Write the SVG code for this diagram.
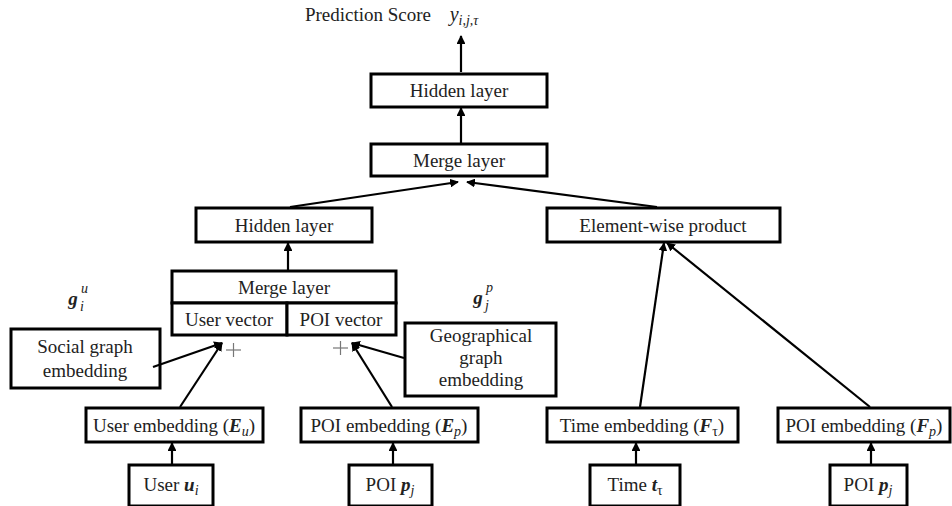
<svg xmlns="http://www.w3.org/2000/svg" width="952" height="506" viewBox="0 0 952 506">
<defs>
<style>
.box{fill:#fff;stroke:#000;stroke-width:3}
.t{font-family:"Liberation Serif","Times New Roman",serif;font-size:19px;fill:#222;text-anchor:middle}
.s{font-family:"Liberation Serif","Times New Roman",serif;font-size:14px;fill:#222;font-style:italic}
.m{font-style:italic;font-weight:bold}
.i{font-style:italic}
.c{stroke:#000;stroke-width:2.2;fill:none}
.plus{stroke:#777;stroke-width:1.2}
</style>
<marker id="ah" viewBox="0 0 10 10" refX="9" refY="5" markerWidth="4" markerHeight="4" orient="auto" markerUnits="strokeWidth">
<path d="M0,0 L10,5 L0,10 z" fill="#000"/>
</marker>
</defs>
<rect width="952" height="506" fill="#fff"/>

<g id="prediction">
<text class="t" x="368" y="21">Prediction Score</text>
<text class="t" x="464" y="21"><tspan class="i" font-size="20">y</tspan><tspan class="i" font-size="14" dy="4">i,j,τ</tspan></text>
</g>

<g id="hidden-top"><rect class="box" x="371" y="74" width="176" height="33"/><text class="t" x="459" y="97">Hidden layer</text></g>
<g id="merge-top"><rect class="box" x="371" y="144" width="176" height="32"/><text class="t" x="459" y="166.5">Merge layer</text></g>
<g id="hidden-left"><rect class="box" x="196" y="208" width="176" height="34"/><text class="t" x="284" y="231.5">Hidden layer</text></g>
<g id="elementwise"><rect class="box" x="547" y="208" width="233" height="34"/><text class="t" x="663" y="231.5">Element-wise product</text></g>

<g id="merge-mid"><rect class="box" x="172" y="271" width="224" height="32"/><text class="t" x="284" y="293.5">Merge layer</text></g>
<g id="user-vector"><rect class="box" x="172" y="303" width="115" height="32"/><text class="t" x="229" y="325.5">User vector</text></g>
<g id="poi-vector"><rect class="box" x="287" y="303" width="109" height="32"/><text class="t" x="341" y="325.5">POI vector</text></g>

<g id="g-u">
<text class="t m" x="73" y="305" font-size="21">g</text>
<text class="s" x="80" y="311">i</text>
<text class="s" x="81" y="293">u</text>
</g>
<g id="g-p">
<text class="t m" x="478" y="304" font-size="21">g</text>
<text class="s" x="485" y="310">j</text>
<text class="s" x="486" y="292">p</text>
</g>

<g id="social"><rect class="box" x="11" y="329" width="149" height="59"/><text class="t" x="85" y="353">Social graph</text><text class="t" x="85" y="377">embedding</text></g>
<g id="geo"><rect class="box" x="405" y="323" width="151" height="73"/><text class="t" x="481" y="342">Geographical</text><text class="t" x="481" y="364">graph</text><text class="t" x="481" y="386">embedding</text></g>

<g id="plus-user"><line class="plus" x1="226" y1="350" x2="241" y2="350"/><line class="plus" x1="233.5" y1="343" x2="233.5" y2="357"/></g>
<g id="plus-poi"><line class="plus" x1="333" y1="348" x2="348" y2="348"/><line class="plus" x1="340.5" y1="341" x2="340.5" y2="355"/></g>

<g id="user-emb"><rect class="box" x="86" y="408" width="177" height="34"/><text class="t" x="174" y="431.5">User embedding (<tspan class="m">E</tspan><tspan class="i" font-size="14" dy="4">u</tspan><tspan dy="-4">)</tspan></text></g>
<g id="poi-emb-e"><rect class="box" x="301" y="408" width="177" height="34"/><text class="t" x="389" y="431.5">POI embedding (<tspan class="m">E</tspan><tspan class="i" font-size="14" dy="4">p</tspan><tspan dy="-4">)</tspan></text></g>
<g id="time-emb"><rect class="box" x="547" y="408" width="191" height="34"/><text class="t" x="642" y="431.5">Time embedding (<tspan class="m">F</tspan><tspan font-size="14" dy="4">τ</tspan><tspan dy="-4">)</tspan></text></g>
<g id="poi-emb-f"><rect class="box" x="778" y="408" width="172" height="34"/><text class="t" x="864" y="431.5">POI embedding (<tspan class="m">F</tspan><tspan class="i" font-size="14" dy="4">p</tspan><tspan dy="-4">)</tspan></text></g>

<g id="user-in"><rect class="box" x="129" y="465" width="84" height="41"/><text class="t" x="171" y="491">User <tspan class="m">u</tspan><tspan class="i" font-size="14" dy="4">i</tspan></text></g>
<g id="poi-in-1"><rect class="box" x="349" y="465" width="83" height="41"/><text class="t" x="390" y="491">POI <tspan class="m">p</tspan><tspan class="i" font-size="14" dy="4">j</tspan></text></g>
<g id="time-in"><rect class="box" x="590" y="465" width="90" height="41"/><text class="t" x="635" y="491">Time <tspan class="m">t</tspan><tspan font-size="14" dy="4">τ</tspan></text></g>
<g id="poi-in-2"><rect class="box" x="830" y="465" width="77" height="41"/><text class="t" x="868" y="491">POI <tspan class="m">p</tspan><tspan class="i" font-size="14" dy="4">j</tspan></text></g>

<g id="connectors">
<line class="c" x1="461" y1="72" x2="461" y2="36" marker-end="url(#ah)"/>
<line class="c" x1="461" y1="143" x2="461" y2="108" marker-end="url(#ah)"/>
<line class="c" x1="290" y1="207" x2="458" y2="182" marker-end="url(#ah)"/>
<line class="c" x1="657" y1="207" x2="467" y2="182" marker-end="url(#ah)"/>
<line class="c" x1="288" y1="270" x2="288" y2="243" marker-end="url(#ah)"/>
<line class="c" x1="153" y1="367" x2="222" y2="343" marker-end="url(#ah)"/>
<line class="c" x1="180" y1="407" x2="222" y2="343" marker-end="url(#ah)"/>
<line class="c" x1="404" y1="358" x2="352" y2="343" marker-end="url(#ah)"/>
<line class="c" x1="392" y1="407" x2="352" y2="343" marker-end="url(#ah)"/>
<line class="c" x1="640" y1="407" x2="664" y2="243" marker-end="url(#ah)"/>
<line class="c" x1="870" y1="407" x2="667" y2="243" marker-end="url(#ah)"/>
<line class="c" x1="172" y1="464" x2="172" y2="443" marker-end="url(#ah)"/>
<line class="c" x1="393" y1="464" x2="393" y2="443" marker-end="url(#ah)"/>
<line class="c" x1="636" y1="464" x2="636" y2="443" marker-end="url(#ah)"/>
<line class="c" x1="871" y1="464" x2="871" y2="443" marker-end="url(#ah)"/>
</g>
</svg>
